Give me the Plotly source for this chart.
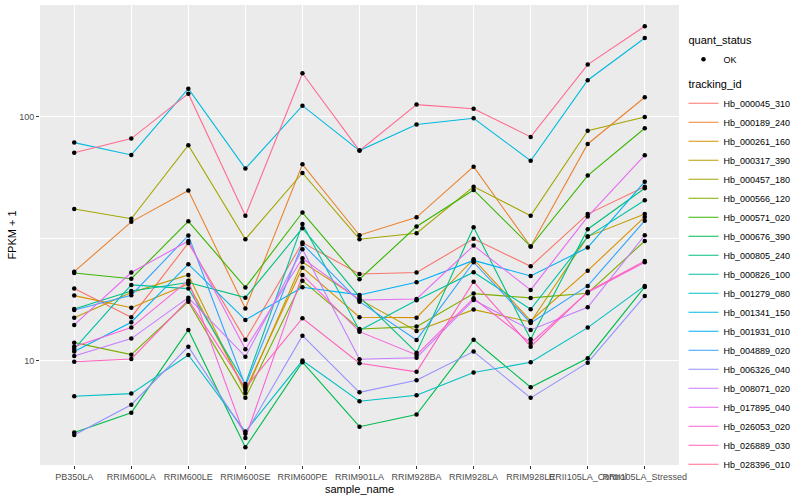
import plotly.graph_objects as go

samples = ["PB350LA", "RRIM600LA", "RRIM600LE", "RRIM600SE", "RRIM600PE", "RRIM901LA",
           "RRIM928BA", "RRIM928LA", "RRIM928LE", "RRII105LA_Control", "RRII105LA_Stressed"]

tracking_ids = ["Hb_000045_310", "Hb_000189_240", "Hb_000261_160", "Hb_000317_390", "Hb_000457_180",
                "Hb_000566_120", "Hb_000571_020", "Hb_000676_390", "Hb_000805_240", "Hb_000826_100",
                "Hb_001279_080", "Hb_001341_150", "Hb_001931_010", "Hb_004889_020", "Hb_006326_040",
                "Hb_008071_020", "Hb_017895_040", "Hb_026053_020", "Hb_026889_030", "Hb_028396_010"]

colors = ["#F8766D", "#EA8331", "#D89000", "#C09B00", "#A3A500", "#7CAE00", "#39B600", "#00BB4E",
          "#00BF7D", "#00C1A3", "#00BFC4", "#00BAE0", "#00B0F6", "#35A2FF", "#9590FF", "#C77CFF",
          "#E76BF3", "#FA62DB", "#FF62BC", "#FF6C91"]

# FPKM + 1 values, one list per tracking_id, in sample order
Hb_000045_310 = [19.8, 15.1, 30.4, 12.2, 30.5, 22.7, 23.0, 31.6, 24.4, 39.9, 51.7]
Hb_000189_240 = [23.2, 37.1, 49.8, 16.4, 63.8, 32.7, 38.7, 62.4, 29.4, 77.3, 120.0]
Hb_000261_160 = [18.51, 16.52, 20.66, 7.61, 24.09, 15.10, 15.04, 26.08, 14.58, 23.42, 38.85]
Hb_000317_390 = [15.04, 19.04, 22.49, 7.40, 25.42, 17.86, 13.27, 16.22, 14.44, 32.28, 39.96]
Hb_000457_180 = [41.9, 38.2, 76.4, 31.5, 58.8, 31.5, 33.3, 51.7, 39.3, 87.6, 99.7]
Hb_000566_120 = [11.88, 10.61, 17.48, 7.06, 21.31, 13.52, 13.82, 18.86, 18.11, 18.93, 30.98]
Hb_000571_020 = [22.9, 21.7, 37.3, 20.0, 40.5, 21.6, 35.5, 50.1, 29.4, 57.4, 89.6]
Hb_000676_390 = [5.09, 6.14, 13.39, 4.43, 9.88, 5.38, 6.03, 12.22, 7.80, 10.26, 20.09]
Hb_000805_240 = [16.33, 19.34, 20.95, 18.16, 34.93, 18.28, 10.81, 35.26, 12.27, 34.60, 50.92]
Hb_000826_100 = [11.20, 20.47, 19.77, 8.05, 36.37, 13.33, 17.72, 23.07, 16.28, 32.28, 45.49]
Hb_001279_080 = [7.17, 7.35, 10.58, 5.14, 10.03, 6.84, 7.24, 8.96, 9.88, 13.69, 20.28]
Hb_001341_150 = [78.3, 69.7, 130.2, 61.3, 110.9, 72.6, 92.8, 98.5, 66.0, 140.9, 209.9]
Hb_001931_010 = [10.92, 14.40, 24.88, 14.72, 20.03, 18.63, 20.99, 25.79, 22.28, 29.10, 54.19]
Hb_004889_020 = [16.17, 18.58, 32.64, 7.90, 30.13, 17.48, 12.19, 25.35, 14.30, 20.28, 37.52]
Hb_006326_040 = [4.98, 6.62, 11.44, 5.03, 12.69, 7.44, 8.34, 10.92, 7.06, 9.84, 18.46]
Hb_008071_020 = [10.48, 12.34, 18.16, 10.41, 28.66, 10.16, 10.31, 17.77, 13.39, 16.59, 32.70]
Hb_017895_040 = [14.04, 23.0, 30.98, 11.17, 26.33, 17.77, 17.94, 29.65, 19.53, 38.97, 69.5]
Hb_026053_020 = [11.44, 13.69, 21.31, 4.84, 22.49, 13.18, 10.58, 18.06, 11.85, 19.07, 25.35]
Hb_026889_030 = [9.93, 10.19, 17.77, 7.76, 14.95, 9.79, 9.02, 21.11, 11.44, 19.21, 25.66]
Hb_028396_010 = [71.2, 81.3, 124.2, 39.3, 150.5, 72.6, 112.0, 107.8, 82.6, 163.3, 234.4]

series = [Hb_000045_310, Hb_000189_240, Hb_000261_160, Hb_000317_390, Hb_000457_180,
          Hb_000566_120, Hb_000571_020, Hb_000676_390, Hb_000805_240, Hb_000826_100,
          Hb_001279_080, Hb_001341_150, Hb_001931_010, Hb_004889_020, Hb_006326_040,
          Hb_008071_020, Hb_017895_040, Hb_026053_020, Hb_026889_030, Hb_028396_010]

quant_status = ["OK"]

fig = go.Figure()

for i, (tid, vals, col) in enumerate(zip(tracking_ids, series, colors)):
    fig.add_trace(go.Scatter(
        x=samples, y=vals, mode="lines", name=tid,
        line=dict(color=col, width=1.1),
        legendgroup="tid", legendrank=i + 2,
        legendgrouptitle=dict(text="tracking_id", font=dict(size=11, color="black")),
    ))

all_x = [s for vals in series for s in samples]
all_y = [v for vals in series for v in vals]
fig.add_trace(go.Scatter(
    x=all_x, y=all_y, mode="markers", name=quant_status[0],
    marker=dict(color="black", size=4.5, symbol="circle"),
    legendgroup="qs", legendrank=1,
    legendgrouptitle=dict(text="quant_status", font=dict(size=11, color="black")),
))

fig.update_layout(
    width=800, height=500,
    margin=dict(l=40, r=116, t=5, b=35),
    plot_bgcolor="#EBEBEB", paper_bgcolor="white",
    font=dict(family="Liberation Sans, Arial, sans-serif", size=9, color="#4D4D4D"),
    legend=dict(x=1.007, xanchor="left", y=0.955, yanchor="top",
                traceorder="grouped", tracegroupgap=6,
                font=dict(size=9, color="black"), itemwidth=30,
                bgcolor="rgba(0,0,0,0)"),
    showlegend=True,
)

fig.update_xaxes(
    type="category", categoryorder="array", categoryarray=samples,
    range=[-0.6, len(samples) - 0.4],
    showgrid=True, gridcolor="white", gridwidth=1.1,
    ticks="outside", ticklen=3, tickcolor="#333333", tickangle=0,
    showline=False, zeroline=False,
    tickfont=dict(size=9, color="#4D4D4D"),
    title=dict(text="sample_name", font=dict(size=11, color="black"), standoff=4),
)

fig.update_yaxes(
    type="log", range=[0.574, 2.457],
    tickvals=[10, 100], ticktext=["10", "100"],
    showgrid=True, gridcolor="white", gridwidth=1.1,
    minor=dict(tickvals=[31.6227766], showgrid=True, gridcolor="white", gridwidth=0.5, ticks=""),
    ticks="outside", ticklen=3, tickcolor="#333333",
    showline=False, zeroline=False,
    tickfont=dict(size=9, color="#4D4D4D"),
    title=dict(text="FPKM + 1", font=dict(size=11, color="black"), standoff=0),
)

fig.write_html("out.html", config={"displayModeBar": False},
               post_script="document.body.style.margin='0';")
